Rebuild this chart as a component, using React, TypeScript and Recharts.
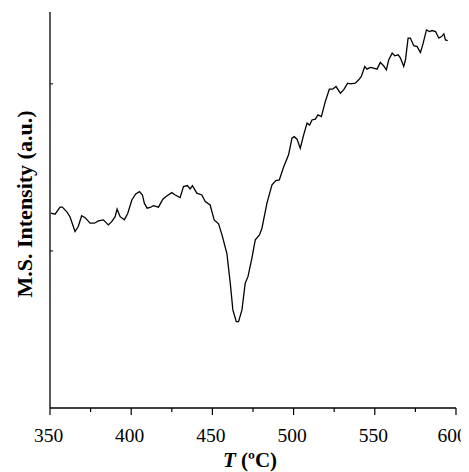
import { LineChart, Line, XAxis, YAxis, Label } from "recharts";

// temperature (ºC)
const temps = [
  350.6, 353.1, 356.2, 357.6, 359.2, 360.5, 362.3, 365.4, 367.4, 369.5,
  371.6, 374.7, 377.3, 379.8, 382.9, 385.9, 388.0, 390.1, 391.3, 393.2,
  395.8, 397.9, 400.4, 402.8, 405.1, 406.9, 408.1, 409.8, 411.7, 413.7,
  416.8, 419.5, 421.9, 425.0, 427.1, 430.1, 432.2, 434.6, 436.3, 437.7,
  440.4, 443.5, 445.6, 448.6, 451.1, 453.8, 455.9, 458.9, 461.0, 462.6,
  464.7, 466.1, 468.2, 470.2, 471.9, 474.3, 476.4, 479.0, 480.5, 483.6,
  486.7, 489.1, 491.2, 493.8, 496.9, 499.0, 500.4, 502.1, 504.1, 506.2,
  508.3, 509.9, 511.3, 513.4, 515.0, 517.1, 519.5, 522.0, 524.0, 526.1,
  528.8, 530.8, 533.3, 534.9, 538.0, 540.1, 541.7, 543.8, 545.2, 547.3,
  549.3, 551.4, 553.4, 555.5, 557.1, 558.6, 560.7, 562.3, 564.4, 565.8,
  567.8, 568.9, 570.5, 571.9, 574.0, 576.1, 578.1, 579.8, 581.8, 583.7,
  585.3, 587.4, 589.4, 591.1, 592.5, 593.5, 594.9,
];

// M.S. intensity, arbitrary units
const intensity = [
  12.26, 12.2, 12.62, 12.62, 12.46, 12.32, 12.05, 11.16, 11.46, 12.11,
  11.99, 11.66, 11.66, 11.8, 11.86, 11.56, 11.75, 12.05, 12.5, 12.05,
  11.86, 12.26, 13.05, 13.41, 13.55, 13.35, 12.86, 12.56, 12.6, 12.71,
  12.62, 13.1, 13.29, 13.49, 13.35, 13.19, 13.85, 13.91, 13.71, 13.91,
  13.46, 13.35, 12.95, 12.75, 11.86, 11.62, 10.96, 9.86, 8.07, 6.47,
  5.77, 5.77, 6.47, 8.07, 8.46, 9.56, 10.66, 10.96, 11.36, 12.86,
  13.95, 14.21, 14.25, 15.01, 15.75, 16.75, 16.84, 16.69, 16.15, 16.95,
  17.65, 17.54, 17.84, 17.89, 18.14, 18.04, 18.94, 19.68, 19.68, 19.84,
  19.44, 19.64, 20.04, 20.0, 20.04, 20.24, 20.44, 21.04, 20.88, 20.98,
  20.94, 20.88, 21.28, 21.08, 20.84, 21.44, 21.84, 21.68, 21.74, 21.54,
  21.04, 21.44, 22.74, 22.74, 22.28, 22.23, 21.87, 22.44, 23.23, 23.13,
  23.19, 23.13, 22.74, 22.83, 22.99, 22.63, 22.59,
];

const xTicks = [350, 375, 400, 425, 450, 475, 500, 525, 550, 575, 600];
const yTicks = [10, 20];

const data = temps.map((t, i) => ({ t, v: intensity[i] }));

const FONT = '"Liberation Serif", "Times New Roman", serif';

const XTick = (props: any) => {
  const { x, y, payload } = props;
  const major = payload.value % 50 === 0;
  // labels sit a touch left of their tick in the original
  const shift = payload.value === 600 ? -4 : -1.5;
  return (
    <g>
      <line x1={x} y1={y} x2={x} y2={y + (major ? 7 : 4)} stroke="#000" strokeWidth={1.2} />
      {major && (
        <text x={x + shift} y={y + 34} textAnchor="middle" fontSize={19.5} fontFamily={FONT} fill="#000">
          {payload.value}
        </text>
      )}
    </g>
  );
};

const YTick = (props: any) => {
  const { x, y } = props;
  return <line x1={x} y1={y} x2={x + 3} y2={y} stroke="#000" strokeWidth={1} />;
};

export default function App() {
  return (
    <div>
      <style>{`svg { overflow: visible; }`}</style>
      <LineChart
        width={461}
        height={464}
        data={data}
        margin={{ top: 4, right: 13, left: 0, bottom: 0 }}
      >
        <XAxis
          type="number"
          dataKey="t"
          domain={[350, 600]}
          ticks={xTicks}
          interval={0}
          height={64}
          tickSize={0}
          tickMargin={0}
          tick={<XTick />}
          axisLine={{ stroke: "#000", strokeWidth: 1.3 }}
        >
          <Label
            content={() => (
              <text x={242} y={459} textAnchor="middle" fontSize={21} fontWeight="bold" fontFamily={FONT} fill="#000">
                <tspan fontStyle="italic">T</tspan>
                <tspan> (ºC)</tspan>
              </text>
            )}
          />
        </XAxis>
        <YAxis
          type="number"
          domain={[0.6, 24.3]}
          ticks={yTicks}
          width={42}
          tickSize={0}
          tickMargin={0}
          tick={<YTick />}
          axisLine={{ stroke: "#000", strokeWidth: 1.3 }}
        >
          <Label
            content={() => (
              <text
                x={16}
                y={196}
                transform="rotate(-90 16 196)"
                textAnchor="middle"
                dominantBaseline="central"
                fontSize={22}
                fontWeight="bold"
                fontFamily={FONT}
                fill="#000"
              >
                M.S. Intensity (a.u.)
              </text>
            )}
          />
        </YAxis>
        <Line
          type="linear"
          dataKey="v"
          stroke="#000"
          strokeWidth={1.3}
          dot={false}
          isAnimationActive={false}
        />
      </LineChart>
    </div>
  );
}
